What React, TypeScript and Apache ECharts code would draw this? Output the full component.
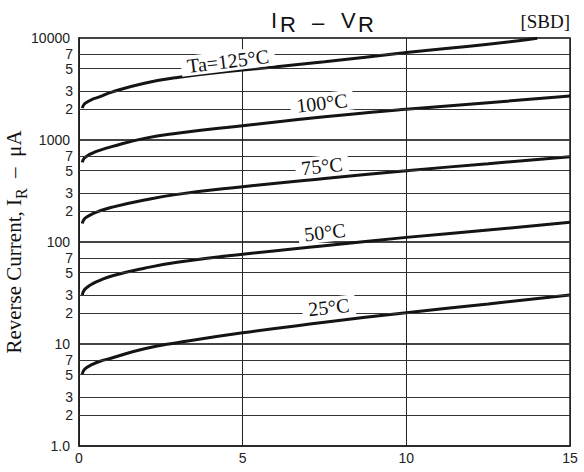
import React, { useEffect, useRef } from "react";
import * as echarts from "echarts";

// Reverse voltage (V)
const voltages = [0.1, 0.15, 0.25, 0.4, 0.6, 1, 2, 3, 5, 7.5, 10, 12.5, 15];
const voltages125 = [0.1, 0.15, 0.25, 0.4, 0.6, 1, 2, 3, 5, 7.5, 10, 12.5, 14];
// Reverse current (uA)
const ir125 = [2050, 2220, 2360, 2500, 2630, 2950, 3600, 4100, 4850, 5850, 7200, 8700, 9950];
const ir100 = [604, 656, 698, 741, 787, 861, 1037, 1164, 1380, 1690, 2000, 2320, 2700];
const ir75 = [152, 166, 177, 188, 200, 219, 258, 293, 348, 420, 500, 586, 686];
const ir50 = [30.2, 33.4, 36.0, 38.7, 41.6, 46.4, 55.3, 63.2, 76, 92, 111, 131, 156];
const ir25 = [5.08, 5.55, 5.93, 6.3, 6.7, 7.3, 9.0, 10.3, 12.9, 16.3, 20.3, 24.7, 30.2];

// curve labels (data coordinates)
const labelTexts = ["Ta=125°C", "100°C", "75°C", "50°C", "25°C"];
const labelX = [4.55, 7.42, 7.42, 7.51, 7.63];
const labelY = [5950, 2305, 556, 125, 23];
const labelAngle = [7, 6.5, 6, 6.5, 6];

// axis ticks
const xTicks = [0, 5, 10, 15];
const decades = [1, 10, 100, 1000];
const minorDigits = [2, 3, 5, 7];

const SANS = "'Liberation Sans', Arial, sans-serif";
const SERIF = "'Liberation Serif', 'Times New Roman', serif";

const pairs = (xs: number[], ys: number[]) => xs.map((x, i) => [x, ys[i]]);

export default function App() {
  const ref = useRef<HTMLDivElement>(null);

  useEffect(() => {
    if (!ref.current) return;
    const chart = echarts.init(ref.current, null, { renderer: "svg" });

    const minorValues: number[] = [];
    decades.forEach((d) => minorDigits.forEach((m) => minorValues.push(m * d)));

    const curveSeries = [
      pairs(voltages125, ir125),
      pairs(voltages, ir100),
      pairs(voltages, ir75),
      pairs(voltages, ir50),
      pairs(voltages, ir25),
    ].map((data, i) => ({
      type: "line",
      name: labelTexts[i],
      data,
      smooth: 0.5,
      symbol: "none",
      z: 3,
      lineStyle: { color: "#141414", width: 3 },
      silent: true,
    }));

    const option: any = {
      animation: false,
      backgroundColor: "#ffffff",
      grid: {
        left: 79,
        right: 14,
        top: 38,
        bottom: 26,
        show: true,
        borderColor: "#222",
        borderWidth: 1.5,
        backgroundColor: "transparent",
      },
      xAxis: {
        type: "value",
        min: xTicks[0],
        max: xTicks[xTicks.length - 1],
        interval: 5,
        axisLine: { show: true, lineStyle: { color: "#222", width: 1.5 } },
        axisTick: { show: false },
        axisLabel: {
          margin: 5,
          fontSize: 14,
          fontFamily: SANS,
          color: "#222",
        },
        splitLine: { show: true, lineStyle: { color: "#222", width: 1 } },
      },
      yAxis: {
        type: "log",
        logBase: 10,
        min: 1,
        max: 10000,
        axisLine: { show: true, lineStyle: { color: "#222", width: 1.5 } },
        axisTick: { show: false },
        axisLabel: {
          margin: 9,
          fontSize: 14,
          fontFamily: SANS,
          color: "#222",
          formatter: (v: number) => (v === 1 ? "1.0" : String(v)),
        },
        splitLine: { show: true, lineStyle: { color: "#444", width: 2 } },
      },
      series: [
        {
          type: "line",
          name: "grid",
          data: [],
          z: 1,
          silent: true,
          markLine: {
            silent: true,
            symbol: ["none", "none"],
            animation: false,
            emphasis: { disabled: true },
            lineStyle: { color: "#333", width: 1, type: "solid" },
            label: {
              show: true,
              position: "start",
              distance: 6,
              fontSize: 14,
              lineHeight: 14,
              fontFamily: SANS,
              color: "#222",
              formatter: (p: any) => String(p.value).charAt(0),
            },
            data: minorValues.map((v) => ({ yAxis: v })),
          },
        },
        ...curveSeries,
      ],
    };

    chart.setOption(option);

    const labelGraphics = labelTexts.map((t, i) => {
      const pt = chart.convertToPixel({ gridIndex: 0 } as any, [labelX[i], labelY[i]]) as number[];
      return {
        type: "text",
        x: pt[0],
        y: pt[1],
        rotation: (labelAngle[i] * Math.PI) / 180,
        z: 100,
        silent: true,
        style: {
          text: t,
          fontSize: 20,
          fontFamily: SERIF,
          fill: "#111",
          align: "center",
          verticalAlign: "middle",
          backgroundColor: "#ffffff",
          padding: [0, 6, 0, 6],
        },
      };
    });

    const titleStyle = { fontSize: 22, fontFamily: SANS, fill: "#111", verticalAlign: "middle" };

    chart.setOption({
      graphic: [
        ...labelGraphics,
        { type: "text", x: 271, y: 20.5, z: 100, style: { ...titleStyle, text: "I", align: "left" } },
        { type: "text", x: 280, y: 24.8, z: 100, style: { ...titleStyle, text: "R", align: "left" } },
        { type: "text", x: 312, y: 22, z: 100, style: { ...titleStyle, text: "–", align: "left" } },
        { type: "text", x: 341, y: 20.5, z: 100, style: { ...titleStyle, text: "V", align: "left" } },
        { type: "text", x: 358, y: 24.8, z: 100, style: { ...titleStyle, text: "R", align: "left" } },
        {
          type: "text",
          x: 570,
          y: 21,
          z: 100,
          style: {
            text: "[SBD]",
            fontSize: 19,
            fontFamily: SERIF,
            fill: "#111",
            align: "right",
            verticalAlign: "middle",
          },
        },
        {
          type: "text",
          x: 14,
          y: 242,
          rotation: Math.PI / 2,
          z: 100,
          style: {
            text: "Reverse Current, I{sub|R}  –  μA",
            fontSize: 21,
            fontFamily: SERIF,
            fill: "#111",
            align: "center",
            verticalAlign: "middle",
            rich: {
              sub: {
                fontSize: 16,
                fontFamily: SERIF,
                fill: "#111",
                verticalAlign: "bottom",
                lineHeight: 30,
              },
            },
          },
        },
      ],
    });

    return () => chart.dispose();
  }, []);

  return (
    <div
      ref={ref}
      style={{ position: "fixed", left: 0, top: 0, width: 584, height: 472, background: "#fff" }}
    />
  );
}
